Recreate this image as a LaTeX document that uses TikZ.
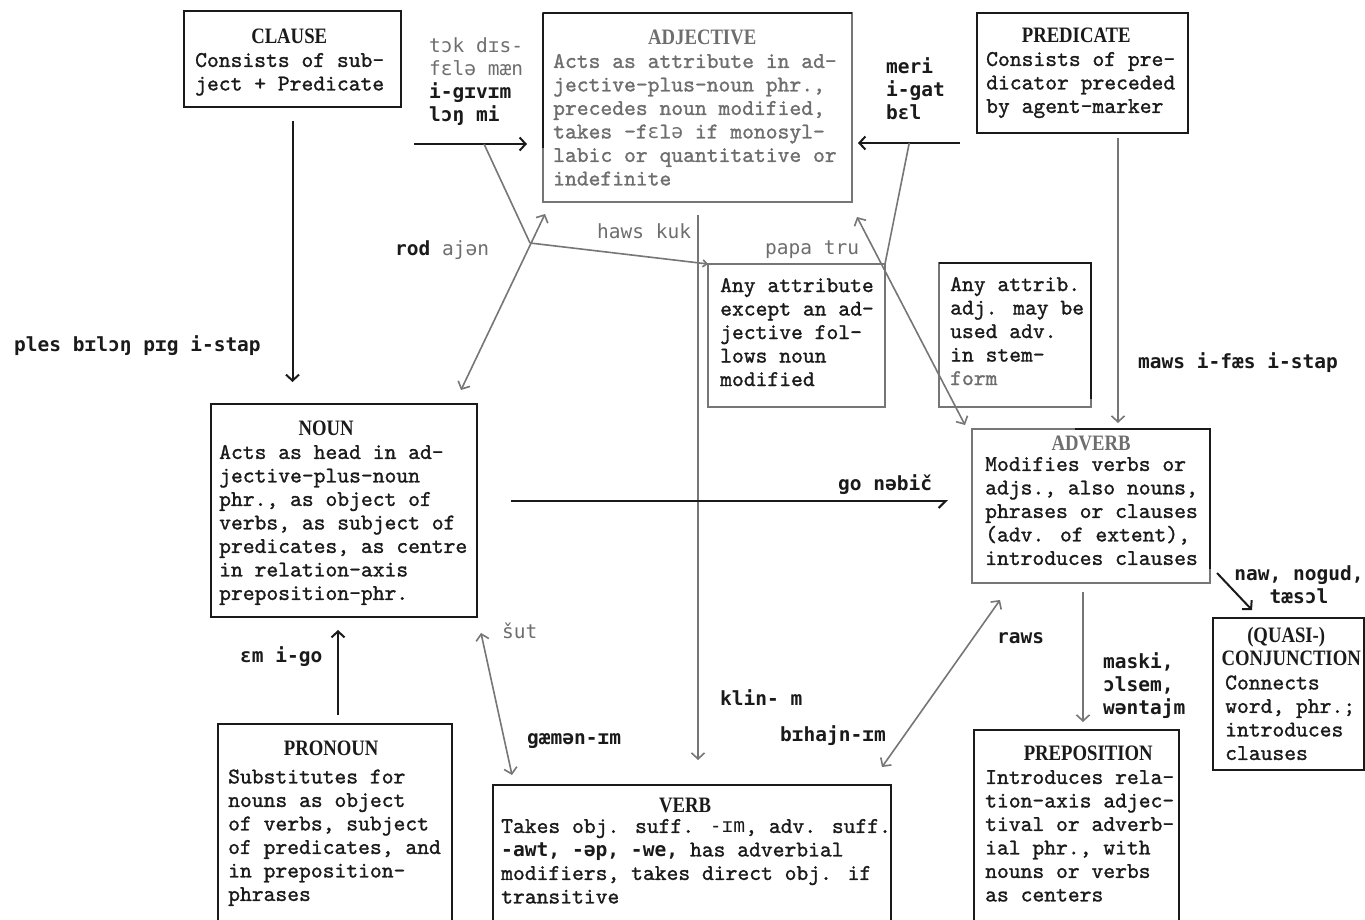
\documentclass[tikz,border=0pt]{standalone}
\usepackage{fontspec}
\usetikzlibrary{arrows.meta,calc}
\newfontfamily\labfont{DejaVu Sans Mono}
\newfontfamily\headfont[FakeStretch=0.85]{Liberation Serif}
\newfontfamily\twfont[FakeBold=1.2]{lmmono10-regular.otf}
\definecolor{ink}{HTML}{1A1A1A}
\definecolor{grayink}{HTML}{6E6E6E}
\definecolor{grayline}{HTML}{767676}
\newcommand\hd[2]{\strut\hspace*{#1}\makebox[0pt]{\headfont\bfseries\fontsize{22}{23.5}\selectfont #2}}
\newcommand\ipx[1]{{\labfont\fontsize{19.6}{23.5}\selectfont #1}}
\tikzset{
  bx/.style={draw=ink, line width=1.8pt, anchor=north west, inner sep=0pt, outer sep=0pt},
  gbx/.style={bx, draw=grayline, line width=1.5pt},
  txt/.style={anchor=north west, inner sep=0pt, align=left, font=\twfont\fontsize{22.5}{23.5}\selectfont, text=ink},
  lab/.style={anchor=base west, inner sep=0pt, font=\labfont\bfseries\fontsize{19.5}{23}\selectfont, text=ink},
  glab/.style={lab, font=\labfont\fontsize{19.5}{23}\selectfont, text=grayink},
  labm/.style={anchor=north west, inner sep=0pt, align=left, font=\labfont\bfseries\fontsize{19.5}{23}\selectfont, text=ink},
  labc/.style={labm, anchor=north, align=center},
  blk/.style={draw=ink, line width=2pt},
  gln/.style={draw=grayline, line width=1.6pt},
  dk/.style={draw=ink, line width=1.8pt},
  arr/.style={-{Straight Barb[length=6pt,width=13pt]}},
  darr/.style={{Straight Barb[length=6pt,width=13pt]}-{Straight Barb[length=6pt,width=13pt]}},
  harr/.style={-{Straight Barb[right,length=7pt,width=14pt]}}
}
\begin{document}
\begin{tikzpicture}[x=1pt,y=-1pt]
\useasboundingbox (0,0) rectangle (1365,920);
\clip (0,0) rectangle (1365,920);
\fill[white] (0,0) rectangle (1365,920);

% ---------- boxes ----------
\node[bx, minimum width=217pt, minimum height=96pt] (clause) at (184,11) {};
\node[gbx, minimum width=309pt, minimum height=189pt] (adj) at (543,13) {};
\node[bx, minimum width=211pt, minimum height=120pt] (pred) at (977,13) {};
\node[bx, minimum width=266pt, minimum height=213pt] (noun) at (211,404) {};
\node[gbx, minimum width=177pt, minimum height=143pt] (anyattr) at (708,264) {};
\node[gbx, minimum width=152pt, minimum height=144pt] (anyadv) at (939,263) {};
\node[gbx, minimum width=238pt, minimum height=154pt] (adverb) at (972,429) {};
\node[bx, minimum width=151pt, minimum height=152pt] (conj) at (1213,618) {};
\node[bx, minimum width=234pt, minimum height=220pt] (pron) at (218,724) {};
\node[bx, minimum width=398pt, minimum height=160pt] (verb) at (493,785) {};
\node[bx, minimum width=205pt, minimum height=215pt] (prep) at (974,730) {};

% darker edge parts
\draw[dk] (adj.north west) -- (adj.north east);
\draw[dk] (adj.north west) -- ($(adj.north west)+(0,135)$);
\draw[dk] ($(adverb.north west)+(103,0)$) -- (adverb.north east) -- ($(adverb.north east)+(0,140)$);
\draw[dk] (anyadv.north west) -- (anyadv.north east) -- ($(anyadv.north east)+(0,136)$);

% ---------- box texts ----------
\node[txt] (clause-t) at (195,26.8) {\hd{94pt}{CLAUSE}\\Consists of sub-\\ject + Predicate};
\node[txt, text=grayink] (adj-t) at (553,27.8) {\hd{149pt}{ADJECTIVE}\\Acts as attribute in ad-\\jective-plus-noun phr.,\\precedes noun modified,\\takes -f\ipx{ɛ}l\ipx{ə} if monosyl-\\labic or quantitative or\\indefinite};
\node[txt] (pred-t) at (986,25.8) {\hd{90pt}{PREDICATE}\\Consists of pre-\\dicator preceded\\by agent-marker};
\node[txt] (noun-t) at (219,418.8) {\hd{107pt}{NOUN}\\Acts as head in ad-\\jective-plus-noun\\phr., as object of\\verbs, as subject of\\predicates, as centre\\in relation-axis\\preposition-phr.};
\node[txt] (anyattr-t) at (720,275.4) {\strut Any attribute\\except an ad-\\jective fol-\\lows noun\\modified};
\node[txt] (anyadv-t) at (950,274.4) {\strut Any attrib.\\adj. may be\\used adv.\\in stem-\\{\color{grayink}form}};
\node[txt] (adverb-t) at (985,433.8) {\hd{106pt}{\color{grayink}ADVERB}\\[-3pt]Modifies verbs or\\adjs., also nouns,\\phrases or clauses\\(adv. of extent),\\introduces clauses};
\node[txt] (conj-t) at (1225,625.8) {\hd{61pt}{(QUASI-)}\\\hd{66pt}{CONJUNCTION}\\Connects\\word, phr.;\\introduces\\clauses};
\node[txt] (pron-t) at (228,738.8) {\hd{103pt}{PRONOUN}\\[4.5pt]Substitutes for\\nouns as object\\of verbs, subject\\of predicates, and\\in preposition-\\phrases};
\node[txt] (verb-t) at (501,795.8) {\hd{184pt}{VERB}\\[-3pt]Takes obj. suff. \ipx{-ɪm}, adv. suff.\\\ipx{\bfseries -awt, -əp, -we,} has adverbial\\modifiers, takes direct obj. if\\transitive};
\node[txt] (prep-t) at (985,743.8) {\hd{103pt}{PREPOSITION}\\Introduces rela-\\tion-axis adjec-\\tival or adverb-\\ial phr., with\\nouns or verbs\\as centers};

% ---------- connectors ----------
\coordinate (tokA) at (414,144);
\coordinate (j1) at (530,243);
\coordinate (meriA) at (960,143);
\coordinate (kl) at ($(adj.south west)+(155,13)$);
\coordinate (mw) at ($(pred.south west)+(141,5)$);
\coordinate (gn) at ($(noun.east)+(34,-9.5)$);
\coordinate (ap) at ($(adverb.south west)+(111,9)$);
\coordinate (ep) at ($(pron.north)+(3,-9)$);

\draw[blk, arr, shorten <=14pt, shorten >=22pt] (clause.south) -- (clause.south |- noun.north);
\draw[blk, arr, shorten >=16pt] (tokA) -- (tokA -| adj.west);
\draw[gln] ($(tokA)!0.543!(tokA -| adj.west)$) -- (j1);
\draw[gln, darr] ($(noun.north west)+(250,-14)$) -- ($(adj.south west)+(2,12)$);
\draw[gln, -{Straight Barb[length=4pt,width=7pt]}] (j1) -- (anyattr.north west);
\draw[gln, arr, shorten >=25pt] (kl) -- (kl |- verb.north);
\draw[blk, arr, shorten >=6pt] (meriA) -- (meriA -| adj.east);
\draw[gln] ($(meriA)!0.47!(meriA -| adj.east)$) -- (anyattr.north east);
\draw[gln, darr] ($(adj.south east)+(5,15)$) -- ($(adverb.north west)+(-7,-4)$);
\draw[gln, arr, shorten >=6pt] (mw) -- (mw |- adverb.north);
\draw[blk, harr, shorten >=24pt] (gn) -- (gn -| adverb.west);
\draw[gln, arr, shorten >=8pt] (ap) -- (ap |- prep.north);
\draw[blk, arr] ($(adverb.south east)+(7,-10)$) -- ($(conj.north west)+(39,-8)$);
\draw[gln, darr] ($(verb.north east)+(-9,-18)$) -- ($(adverb.south west)+(28,17)$);
\draw[gln, darr] ($(noun.south east)+(4,16)$) -- ($(verb.north west)+(19,-10)$);
\draw[blk, arr, shorten >=13pt] (ep) -- (ep |- noun.south);

% ---------- labels ----------
\node[lab] (l-ples) at (14,351) {ples bɪlɔŋ pɪg i-stap};
\node[labm] (l-tok) at (429,36.2) {{\color{grayink}\mdseries\strut tɔk dɪs-}\\{\color{grayink}\mdseries fɛlə mæn}\\i-gɪvɪm\\lɔŋ mi};
\node[lab] (l-rod) at (395,255) {rod {\color{grayink}\mdseries ajən}};
\node[glab] (l-haws) at (597,239) {haws kuk};
\node[glab] (l-papa) at (765,254) {papa tru};
\node[labm] (l-meri) at (886,57.2) {\strut meri\\i-gat\\bɛl};
\node[lab] (l-maws) at (1138,368) {maws i-fæs i-stap};
\node[lab] (l-go) at (838,490) {go nəbič};
\node[labc] (l-naw) at (1299,564.2) {\strut naw, nogud,\\tæsɔl};
\node[lab] (l-raws) at (997,643) {raws};
\node[labm] (l-maski) at (1103,652.2) {\strut maski,\\ɔlsem,\\wəntajm};
\node[lab] (l-klin) at (720,705) {klin- m};
\node[lab] (l-bih) at (780,741) {bɪhajn-ɪm};
\node[glab] (l-sut) at (502,638) {šut};
\node[lab] (l-gam) at (527,744) {gæmən-ɪm};
\node[lab] (l-em) at (240,662) {ɛm i-go};
\end{tikzpicture}
\end{document}
